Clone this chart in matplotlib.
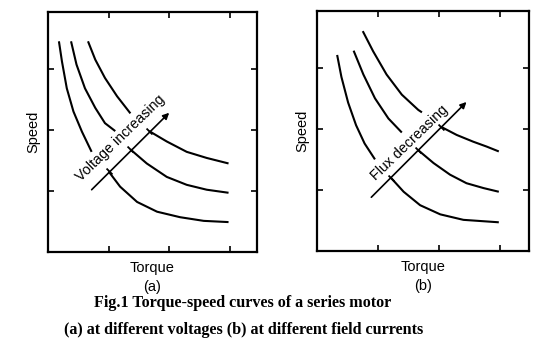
import matplotlib
matplotlib.use("Agg")
import matplotlib.pyplot as plt

plt.rcParams['font.family'] = ['Liberation Sans', 'DejaVu Sans']

# panel (a): speed vs torque at three supply voltages (upper and lower parts of each curve)
a_upper = [
    ([0.18, 0.23, 0.31, 0.42, 0.56, 0.72], [3.45, 3.12, 2.68, 2.30, 1.97, 1.64]),
    ([0.38, 0.47, 0.61, 0.78, 0.94, 1.11], [3.45, 3.07, 2.68, 2.36, 2.11, 1.98]),
    ([0.66, 0.78, 0.94, 1.14, 1.36], [3.45, 3.15, 2.85, 2.55, 2.27]),
]
a_lower = [
    ([1.00, 1.19, 1.47, 1.80, 2.18, 2.57, 2.98], [1.32, 1.07, 0.82, 0.66, 0.57, 0.51, 0.49]),
    ([1.36, 1.63, 1.96, 2.29, 2.62, 2.98], [1.68, 1.45, 1.23, 1.10, 1.02, 0.97]),
    ([1.67, 1.96, 2.29, 2.62, 2.98], [1.98, 1.81, 1.64, 1.54, 1.45]),
]
a_arrow = ([0.72, 2.00], [1.02, 2.28])

# panel (b): speed vs torque at three field fluxes
b_upper = [
    ([0.33, 0.40, 0.51, 0.64, 0.78, 0.95], [3.21, 2.85, 2.43, 2.06, 1.76, 1.50]),
    ([0.60, 0.76, 0.95, 1.17, 1.39], [3.28, 2.89, 2.50, 2.17, 1.94]),
    ([0.75, 0.92, 1.14, 1.39, 1.66, 1.72], [3.60, 3.27, 2.89, 2.56, 2.31, 2.27]),
]
b_lower = [
    ([1.21, 1.42, 1.69, 2.02, 2.40, 2.98], [1.20, 0.97, 0.75, 0.60, 0.51, 0.47]),
    ([1.66, 1.91, 2.18, 2.45, 2.73, 2.98], [1.65, 1.44, 1.25, 1.11, 1.03, 0.97]),
    ([2.04, 2.29, 2.56, 2.78, 2.98], [2.03, 1.90, 1.79, 1.71, 1.63]),
]
b_arrow = ([0.89, 2.45], [0.88, 2.44])

panels = [
    dict(pos=[0.087, 0.2566, 0.3786, 0.708], xlim=3.45, upper=a_upper, lower=a_lower,
         arrow=a_arrow, text="Voltage increasing", text_xy=(1.20, 1.86), tag="(a)"),
    dict(pos=[0.5743, 0.2596, 0.3846, 0.708], xlim=3.48, upper=b_upper, lower=b_lower,
         arrow=b_arrow, text="Flux decreasing", text_xy=(1.52, 1.77), tag="(b)"),
]

fig = plt.figure(figsize=(5.52, 3.39), dpi=100)

for p in panels:
    ax = fig.add_axes(p['pos'])
    for xs, ys in p['upper'] + p['lower']:
        ax.plot(xs, ys, color='black', lw=1.5, solid_capstyle='butt', solid_joinstyle='round')
    # small cross marks where the lower branches meet the arrow
    for xs, ys in p['lower']:
        ax.plot(xs[0], ys[0], marker=(2, 0, 45), ms=6, mew=1.3, color='black')
    (x0, x1), (y0, y1) = p['arrow']
    ax.annotate('', xy=(x1, y1), xytext=(x0, y0),
                arrowprops=dict(arrowstyle='-|>', color='black', lw=1.2,
                                mutation_scale=9, shrinkA=0, shrinkB=0))
    ax.text(*p['text_xy'], p['text'], rotation=44, rotation_mode='anchor',
            ha='center', va='center', fontsize=10.3)

    ax.set_xlim(0, p['xlim'])
    ax.set_ylim(0, 3.93)
    ax.set_xticks([1, 2, 3])
    ax.set_yticks([1, 2, 3])
    ax.set_xticklabels([])
    ax.set_yticklabels([])
    ax.tick_params(direction='in', length=4, width=1.2, top=True, right=True)
    for s in ax.spines.values():
        s.set_linewidth(1.6)
    ax.set_ylabel('Speed', fontsize=10.5, labelpad=2)
    ax.set_xlabel('Torque', fontsize=10.5, labelpad=3)
    ax.text(0.5, -0.146, p['tag'], transform=ax.transAxes, ha='center', va='center', fontsize=10.5)

fig.text(0.44, 0.106, 'Fig.1 Torque-speed curves of a series motor', ha='center', va='center',
         family='Liberation Serif', fontweight='bold', fontsize=11.6)
fig.text(0.442, 0.028, '(a) at different voltages (b) at different field currents', ha='center',
         va='center', family='Liberation Serif', fontweight='bold', fontsize=11.6)

fig.savefig('out.png', dpi=100)
